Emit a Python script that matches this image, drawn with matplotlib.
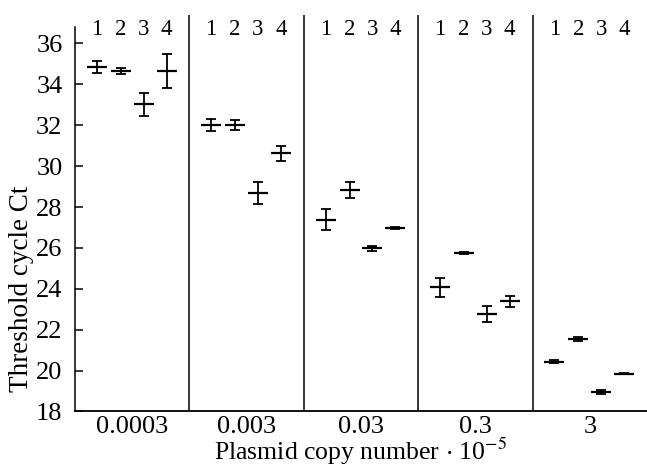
import matplotlib
matplotlib.use("Agg")
import matplotlib.pyplot as plt
import numpy as np

plt.rcParams['font.family'] = ['Liberation Serif', 'DejaVu Serif']
plt.rcParams['mathtext.fontset'] = 'stix'

groups = ['0.0003', '0.003', '0.03', '0.3', '3']
series_labels = ['1', '2', '3', '4']
means = [
    [34.86, 34.66, 33.02, 34.65],
    [32.00, 32.00, 28.69, 30.62],
    [27.38, 28.82, 25.99, 26.99],
    [24.08, 25.76, 22.77, 23.38],
    [20.44, 21.53, 18.97, 19.85],
]
errors = [
    [0.30, 0.16, 0.55, 0.85],
    [0.28, 0.25, 0.55, 0.38],
    [0.50, 0.38, 0.12, 0.05],
    [0.47, 0.05, 0.38, 0.28],
    [0.07, 0.10, 0.10, 0.03],
]
yticks = [18, 20, 22, 24, 26, 28, 30, 32, 34, 36]

offsets = [0.19, 0.40, 0.60, 0.80]

fig = plt.figure(figsize=(6.47, 4.70), dpi=100)
ax = fig.add_axes([0.1159, 0.1245, 0.8841, 0.8436])
ax.set_xlim(0, len(groups))
ax.set_ylim(18, 37.39)

for gi, (m, e) in enumerate(zip(means, errors)):
    xs = [gi + o for o in offsets]
    ax.errorbar(xs, m, yerr=e, fmt='none', ecolor='black', elinewidth=1.3,
                capsize=3.6, capthick=1.3)
    ax.plot(xs, m, linestyle='none', marker='_', markersize=14.4,
            markeredgewidth=1.6, color='black')
    for x, lab in zip(xs, series_labels):
        ax.text(x, 36.66, lab, ha='center', va='center', fontsize=16.5)
    if gi > 0:
        ax.axvline(gi, color='black', lw=1.1)

ax.set_xticks([gi + 0.5 for gi in range(len(groups))])
ax.set_xticklabels(groups, fontsize=19)
ax.tick_params(axis='x', length=0, pad=3)
ax.set_yticks(yticks)
ax.set_yticklabels([str(t) for t in yticks], fontsize=19)
ax.tick_params(axis='y', direction='in', length=6, width=1.1, pad=9)

for s in ['top', 'right']:
    ax.spines[s].set_visible(False)
ax.spines['left'].set_bounds(18, 36.81)
ax.spines['left'].set_linewidth(1.1)
ax.spines['bottom'].set_linewidth(1.3)

ax.set_xlabel('Plasmid copy number $\\cdot$ 10$^{-5}$', fontsize=18.5, labelpad=-1)
ax.set_ylabel('Threshold cycle Ct', fontsize=19.5)
ax.yaxis.set_label_coords(-0.071, 0.31)

fig.savefig('out.png', dpi=100)
